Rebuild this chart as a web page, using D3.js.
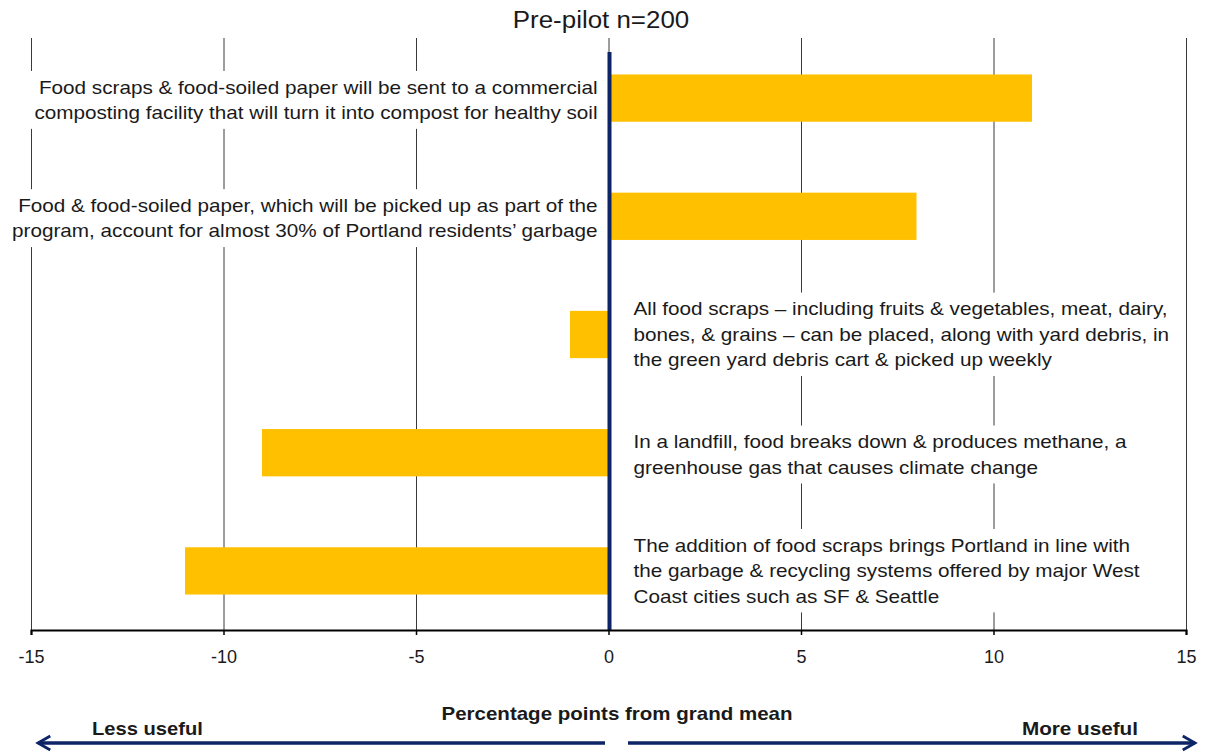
<!DOCTYPE html>
<html>
<head>
<meta charset="utf-8">
<script src="https://cdn.jsdelivr.net/npm/d3@7"></script>
<style>
  body { margin: 0; background: #fff; }
  svg text { font-family: "Liberation Sans", Arial, sans-serif; fill: #1a1a1a; }
</style>
</head>
<body>
<script>
(function() {

	var width = 1206,
		height = 753;

	// data
	var statements = [
		["Food scraps & food-soiled paper will be sent to a commercial",
		 "composting facility that will turn it into compost for healthy soil"],
		["Food & food-soiled paper, which will be picked up as part of the",
		 "program, account for almost 30% of Portland residents’ garbage"],
		["All food scraps – including fruits & vegetables, meat, dairy,",
		 "bones, & grains – can be placed, along with yard debris, in",
		 "the green yard debris cart & picked up weekly"],
		["In a landfill, food breaks down & produces methane, a",
		 "greenhouse gas that causes climate change"],
		["The addition  of food scraps brings Portland in line with",
		 "the garbage & recycling systems offered by major West",
		 "Coast cities such as SF & Seattle"]
	];
	var diffs = [11, 8, -1, -9, -11];
	var xTicks = [-15, -10, -5, 0, 5, 10, 15];

	var title = "Pre-pilot n=200",
		axisTitle = "Percentage points from grand mean",
		leftNote = "Less useful",
		rightNote = "More useful";

	// colours
	var barColor = "#FFC000",
		navy = "#0d2566",
		gridColor = "#3a3a3a";

	// the reference text is a bit wider than Liberation Sans
	var stretch = 1.15;

	var plot = {left: 31, right: 1186, top: 39, bottom: 630};

	var svg = d3.select("body").append("svg")
		.attr("width", width)
		.attr("height", height);

	var x = d3.scaleLinear()
		.domain([-15, 15])
		.range([plot.left, plot.right]);

	var y = d3.scaleBand()
		.domain(d3.range(statements.length))
		.range([plot.top, plot.bottom])
		.paddingInner(0.6)
		.paddingOuter(0.3);

	function stretchedText(parent, px, py, sx, str) {
		return parent.append("g")
			.attr("transform", "translate(" + px + "," + py + ") scale(" + sx + ",1)")
			.append("text")
			.text(str);
	}

	// grid lines
	svg.append("g")
		.selectAll("line")
		.data(xTicks)
		.enter()
		.append("line")
		.attr("x1", function(d) { return x(d) + 0.5; })
		.attr("x2", function(d) { return x(d) + 0.5; })
		.attr("y1", 38)
		.attr("y2", plot.bottom)
		.attr("stroke", gridColor)
		.attr("stroke-width", 1);

	// statement labels (white boxes hide the grid behind them)
	var labels = svg.append("g")
		.selectAll("g")
		.data(statements)
		.enter()
		.append("g")
		.attr("transform", function(d, i) {
			var tx = diffs[i] > 0 ? x(0) - 11 : x(0) + 25;
			return "translate(" + tx + ",0) scale(" + stretch + ",1)";
		});

	labels.each(function(lines, i) {
		var g = d3.select(this);
		var onLeft = diffs[i] > 0;
		var lineH = 25.5;
		var cy = y(i) + y.bandwidth() / 2 + (lines.length == 2 ? 2 : 0);
		var bg = g.append("rect").attr("fill", "#fff");
		var t = g.append("text")
			.attr("text-anchor", onLeft ? "end" : "start")
			.attr("font-size", 18);
		lines.forEach(function(line, k) {
			t.append("tspan")
				.attr("x", 0)
				.attr("y", cy + (k - (lines.length - 1) / 2) * lineH)
				.attr("dy", "0.35em")
				.text(line);
		});
		var b = t.node().getBBox();
		bg.attr("x", b.x - 4)
			.attr("y", b.y - 6)
			.attr("width", b.width + 8)
			.attr("height", b.height + 12);
	});

	// bars
	svg.append("g")
		.selectAll("rect")
		.data(diffs)
		.enter()
		.append("rect")
		.attr("x", function(d) { return x(Math.min(0, d)); })
		.attr("y", function(d, i) { return y(i); })
		.attr("width", function(d) { return Math.abs(x(d) - x(0)); })
		.attr("height", y.bandwidth())
		.attr("fill", barColor);

	// zero line
	svg.append("line")
		.attr("x1", x(0) + 1)
		.attr("x2", x(0) + 1)
		.attr("y1", 52)
		.attr("y2", plot.bottom)
		.attr("stroke", navy)
		.attr("stroke-width", 4);

	// x axis
	var xAxis = d3.axisBottom(x)
		.tickValues(xTicks)
		.tickSize(5)
		.tickFormat(function(d) { return String(d); });

	var ax = svg.append("g")
		.attr("transform", "translate(0," + plot.bottom + ")")
		.call(xAxis);
	ax.select(".domain").attr("stroke", "#000").attr("stroke-width", 2);
	ax.selectAll(".tick line").attr("stroke", "#000").attr("stroke-width", 1.5);
	ax.selectAll(".tick text")
		.attr("font-size", 18)
		.attr("font-family", "Liberation Sans, Arial, sans-serif")
		.attr("fill", "#1a1a1a")
		.attr("y", 20);

	// title
	stretchedText(svg, 601, 28, 1.08, title)
		.attr("text-anchor", "middle")
		.attr("font-size", 24);

	stretchedText(svg, 617, 720, 1.14, axisTitle)
		.attr("text-anchor", "middle")
		.attr("font-size", 18)
		.attr("font-weight", "bold");

	stretchedText(svg, 92, 735, 1.12, leftNote)
		.attr("font-size", 18)
		.attr("font-weight", "bold");

	stretchedText(svg, 1138, 735, 1.15, rightNote)
		.attr("text-anchor", "end")
		.attr("font-size", 18)
		.attr("font-weight", "bold");

	// direction arrows
	var defs = svg.append("defs");
	defs.append("marker")
		.attr("id", "head")
		.attr("viewBox", "0 0 10 10")
		.attr("refX", 8)
		.attr("refY", 5)
		.attr("markerWidth", 5)
		.attr("markerHeight", 5)
		.attr("orient", "auto")
		.append("path")
		.attr("d", "M1,1 L8,5 L1,9")
		.attr("fill", "none")
		.attr("stroke", navy)
		.attr("stroke-width", 1.6);

	svg.append("line")
		.attr("x1", 605).attr("x2", 38)
		.attr("y1", 743).attr("y2", 743)
		.attr("stroke", navy)
		.attr("stroke-width", 3.5)
		.attr("marker-end", "url(#head)");

	svg.append("line")
		.attr("x1", 628).attr("x2", 1195)
		.attr("y1", 743).attr("y2", 743)
		.attr("stroke", navy)
		.attr("stroke-width", 3.5)
		.attr("marker-end", "url(#head)");

})();
</script>
</body>
</html>
